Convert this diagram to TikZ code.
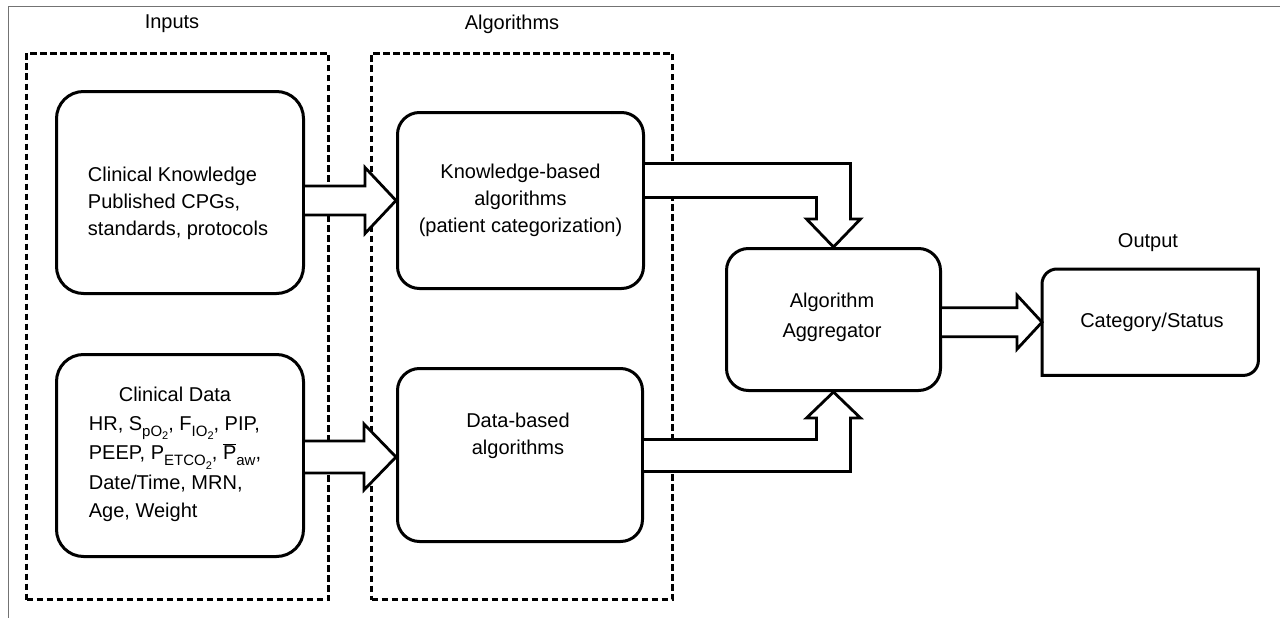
\documentclass[tikz,border=0pt]{standalone}
\usepackage{fontspec}
\setmainfont{Liberation Sans}
\usetikzlibrary{calc}
\newcommand{\subA}[1]{\raisebox{-0.3em}{\fontsize{15}{15}\selectfont #1}}
\newcommand{\subB}[1]{\raisebox{-0.25em}{\fontsize{11}{11}\selectfont #1}}
\begin{document}
\begin{tikzpicture}[x=1pt,y=-1pt,
  dashbox/.style={draw,line width=3pt,dash pattern=on 6.5pt off 3.5pt,inner sep=0pt,anchor=north west},
  roundbox/.style={draw,line width=3pt,rounded corners=#1,inner sep=0pt,anchor=north west,fill=white},
  roundbox/.default=22pt,
  txt/.style={inner sep=0pt,align=center,font=\fontsize{20}{27}\selectfont},
  blockarrow/.style={draw,line width=2.8pt,fill=white,line join=miter}]
\useasboundingbox (0,0) rectangle (1280,618);
% grey frame
\draw[color=black!55,line width=1pt] (8,618) -- (8,7) -- (1280,7);
% dashed groups
\node[dashbox,minimum width=302pt,minimum height=546pt] (gin) at (25,52) {};
\node[dashbox,minimum width=301pt,minimum height=546pt] (galg) at (370,52) {};
\node[txt] (lin) at (172,24) {Inputs};
\node[txt] (lalg) at (512,24) {Algorithms};
\node[txt] (lout) at (1148,243) {Output};
% boxes
\node[roundbox=27pt,minimum width=247pt,minimum height=202pt] (ck) at (55,90) {};
\node[roundbox=27pt,minimum width=247pt,minimum height=202pt] (cd) at (55,353) {};
\node[roundbox,minimum width=246pt,minimum height=176pt] (kb) at (396,111) {};
\node[roundbox,minimum width=245pt,minimum height=173pt] (db) at (396,367) {};
\node[roundbox,minimum width=214pt,minimum height=142pt] (ag) at (725,247) {};
\node[inner sep=0pt,minimum width=216pt,minimum height=106pt,anchor=north west] (out) at (1042,269) {};
\draw[line width=3pt,fill=white] (out.south west) -- ([yshift=-15pt]out.north west)
  arc[start angle=180,end angle=90,radius=15pt] -- (out.north east)
  -- ([yshift=15pt]out.south east) arc[start angle=0,end angle=-90,radius=15pt] -- cycle;
% texts
\node[txt,align=left] (ckt) at (178,203) {Clinical Knowledge\\Published CPGs,\\standards, protocols};
\node[txt,font=\fontsize{20}{28.5}\selectfont] (cdt) at (175,454) {%
  \renewcommand{\arraystretch}{1}%
  \begin{tabular}{@{}l@{}}
  \multicolumn{1}{@{}c@{}}{Clinical Data}\\
  HR, S\subA{pO\subB{2}}, F\subA{IO\subB{2}}, PIP,\\
  PEEP, P\subA{ETCO\subB{2}}, $\overline{\mbox{P}}$\subA{aw},\\
  Date/Time, MRN,\\
  Age, Weight
  \end{tabular}};
\node[txt] (kbt) at (kb.center) {Knowledge-based\\algorithms\\(patient categorization)};
\node[txt] (dbt) at (518,436) {Data-based\\algorithms};
\node[txt,font=\fontsize{20}{30}\selectfont] (agt) at (832,317) {Algorithm\\Aggregator};
\node[txt] (outt) at (1152,322) {Category/Status};
% block arrows
\coordinate (t1) at (kb.west);
\draw[blockarrow] ($(ck.east|-t1)+(0,-14.5)$) -- ($(t1)+(-31,-14.5)$) -- ($(t1)+(-31,-33)$)
  -- (t1) -- ($(t1)+(-31,33)$) -- ($(t1)+(-31,14.5)$) -- ($(ck.east|-t1)+(0,14.5)$);
\coordinate (t2) at ($(db.west)+(0,2)$);
\draw[blockarrow] ($(cd.east|-t2)+(0,-16)$) -- ($(t2)+(-32,-16)$) -- ($(t2)+(-32,-33)$)
  -- (t2) -- ($(t2)+(-32,33)$) -- ($(t2)+(-32,16)$) -- ($(cd.east|-t2)+(0,16)$);
\coordinate (t3) at (ag.north);
\draw[blockarrow] ($(kb.east)+(0,-37)$) -- ($(t3|-kb.east)+(17,-37)$) -- ($(t3)+(17,-28)$)
  -- ($(t3)+(27,-28)$) -- (t3) -- ($(t3)+(-27,-28)$) -- ($(t3)+(-17,-28)$)
  -- ($(t3|-kb.east)+(-17,-3)$) -- ($(kb.east)+(0,-3)$);
\coordinate (t4) at (ag.south);
\draw[blockarrow] ($(db.east)+(0,-15.5)$) -- ($(t4|-db.east)+(-17,-15.5)$) -- ($(t4)+(-17,26)$)
  -- ($(t4)+(-27,26)$) -- (t4) -- ($(t4)+(27,26)$) -- ($(t4)+(17,26)$)
  -- ($(t4|-db.east)+(17,16.5)$) -- ($(db.east)+(0,16.5)$);
\coordinate (t5) at (out.west);
\draw[blockarrow] ($(ag.east|-t5)+(0,-14.5)$) -- ($(t5)+(-25,-14.5)$) -- ($(t5)+(-25,-27)$)
  -- (t5) -- ($(t5)+(-25,27)$) -- ($(t5)+(-25,14.5)$) -- ($(ag.east|-t5)+(0,14.5)$);
\end{tikzpicture}
\end{document}
